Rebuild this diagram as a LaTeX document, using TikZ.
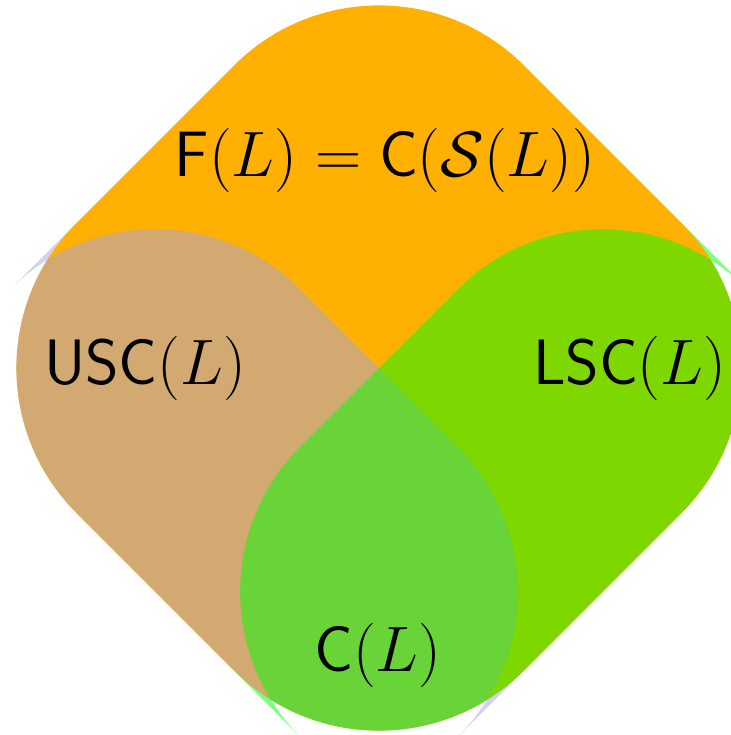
\documentclass[tikz,border=0pt]{standalone}
\definecolor{forange}{RGB}{255,176,0}
\definecolor{uscfill}{RGB}{166,164,224}
\begin{document}
\begin{tikzpicture}[x=0.5pt,y=-0.5pt,
  region/.style={rounded corners=102.5pt},
  lbl/.style={font=\Huge, scale=1.29, inner sep=0pt, text=black}]
\useasboundingbox (0,0) rectangle (730,735);
\coordinate (T) at (379,-79.5);
\coordinate (L) at (-68.5,368);
\coordinate (B) at (379,815.5);
\coordinate (R) at (826.5,368);
\coordinate (UL) at (155.25,144.25);
\coordinate (UR) at (602.75,144.25);
\coordinate (LL) at (155.25,591.75);
\coordinate (LR) at (602.75,591.75);
% F(L): whole rounded diamond
\fill[forange, region] (LL) -- (B) -- (R) -- (T) -- (L) -- (LL);
% USC(L): lower-left half
\fill[uscfill, fill opacity=0.5, region] (LL) -- (B) -- (LR) -- (UL) -- (L) -- (LL);
% LSC(L): lower-right half
\fill[green, fill opacity=0.5, region] (LR) -- (B) -- (LL) -- (UR) -- (R) -- (LR);
\node[lbl] (F) at (385,160) {$\mathsf{F}(L)=\mathsf{C}(\mathcal{S}(L))$};
\node[lbl] (U) at (145,368) {$\mathsf{USC}(L)$};
\node[lbl] (Ls) at (629.5,368) {$\mathsf{LSC}(L)$};
\node[lbl] (Cn) at (378,655) {$\mathsf{C}(L)$};
\end{tikzpicture}
\end{document}
